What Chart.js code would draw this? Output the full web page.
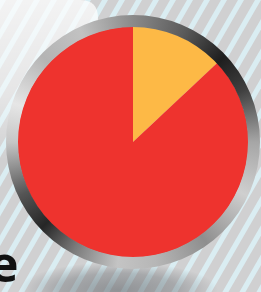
<!DOCTYPE html>
<html>
<head>
<meta charset="utf-8">
<script src="https://cdn.jsdelivr.net/npm/chart.js@4"></script>
<style>
html,body{margin:0;padding:0;background:#d0d0d0;overflow:hidden;}
#wrap{position:relative;width:261px;height:292px;overflow:hidden;}
canvas{position:absolute;left:0;top:0;}
#word{position:absolute;left:-11px;top:238px;font-family:"Open Sans",sans-serif;font-weight:700;font-size:50px;line-height:50px;color:#111;white-space:nowrap;}
</style>
</head>
<body>
<div id="wrap">
<canvas id="c" width="261" height="292"></canvas>
<div id="word">e</div>
</div>
<script>
const categories = ["Share A", "Share B"];
const values = [13, 87];
const sliceColors = ["#fdb946", "#ee332e"];

const backgroundPlugin = {
  id: 'bg',
  beforeDraw(chart) {
    const ctx = chart.ctx, W = chart.width, H = chart.height;
    ctx.save();
    ctx.fillStyle = '#d0d0d1';
    ctx.fillRect(0, 0, W, H);
    // diagonal stripes
    ctx.fillStyle = '#daedf2';
    const period = 17, bw = 6, ang = 60 * Math.PI / 180;
    const dx = H / Math.tan(ang);
    for (let x = -dx - period; x < W + period; x += period) {
      ctx.beginPath();
      ctx.moveTo(x, H);
      ctx.lineTo(x + bw, H);
      ctx.lineTo(x + bw + dx, 0);
      ctx.lineTo(x + dx, 0);
      ctx.closePath();
      ctx.fill();
    }
    // white glow upper left
    const g = ctx.createLinearGradient(0, 0, 0, 160);
    g.addColorStop(0, 'rgba(255,255,255,0.75)');
    g.addColorStop(0.6, 'rgba(255,255,255,0.45)');
    g.addColorStop(1, 'rgba(255,255,255,0)');
    ctx.fillStyle = g;
    ctx.beginPath();
    ctx.moveTo(0, 0);
    ctx.lineTo(80, 0);
    ctx.quadraticCurveTo(98, 0, 98, 18);
    ctx.lineTo(98, 160);
    ctx.lineTo(0, 160);
    ctx.closePath();
    ctx.fill();
    // shadow beneath
    ctx.save();
    ctx.translate(118, 290);
    ctx.scale(1, 0.28);
    const sg = ctx.createRadialGradient(0, 0, 0, 0, 0, 100);
    sg.addColorStop(0, 'rgba(90,95,100,0.55)');
    sg.addColorStop(0.6, 'rgba(90,95,100,0.35)');
    sg.addColorStop(1, 'rgba(90,95,100,0)');
    ctx.fillStyle = sg;
    ctx.beginPath();
    ctx.arc(0, 0, 100, 0, Math.PI * 2);
    ctx.fill();
    ctx.restore();
    ctx.restore();
  }
};

const ringPlugin = {
  id: 'ring',
  afterDatasetsDraw(chart) {
    const arc = chart.getDatasetMeta(0).data[0];
    if (!arc) return;
    const {x, y, outerRadius} = arc.getProps(['x', 'y', 'outerRadius'], true);
    const ctx = chart.ctx;
    const rIn = outerRadius - 0.5, rOut = outerRadius + 11.5;
    ctx.save();
    const cg = ctx.createConicGradient(-Math.PI / 2, x, y);
    const stops = [
      [0.00, '#8a8a8a'], [0.07, '#5a5a5a'], [0.13, '#1e1e1e'], [0.18, '#404040'],
      [0.25, '#a6a6a6'], [0.32, '#cfcfcf'], [0.40, '#8e8e8e'], [0.47, '#b6b6b6'],
      [0.52, '#c4c4c4'], [0.58, '#7a7a7a'], [0.63, '#262626'], [0.68, '#555555'],
      [0.75, '#c6c6c6'], [0.80, '#e6e6e6'], [0.87, '#b4b4b4'], [0.93, '#c2c2c2'],
      [1.00, '#8a8a8a']
    ];
    stops.forEach(s => cg.addColorStop(s[0], s[1]));
    ctx.fillStyle = cg;
    ctx.beginPath();
    ctx.arc(x, y, rOut, 0, Math.PI * 2);
    ctx.arc(x, y, rIn, 0, Math.PI * 2, true);
    ctx.fill();
    ctx.restore();
  }
};

new Chart(document.getElementById('c'), {
  type: 'pie',
  data: {
    labels: categories,
    datasets: [{ data: values, backgroundColor: sliceColors, borderWidth: 0 }]
  },
  options: {
    responsive: false,
    animation: false,
    layout: { padding: { left: 17.5, right: 12.5, top: 26.5, bottom: 34.5 } },
    plugins: { legend: { display: false }, tooltip: { enabled: false } }
  },
  plugins: [backgroundPlugin, ringPlugin]
});
</script>
</body>
</html>
